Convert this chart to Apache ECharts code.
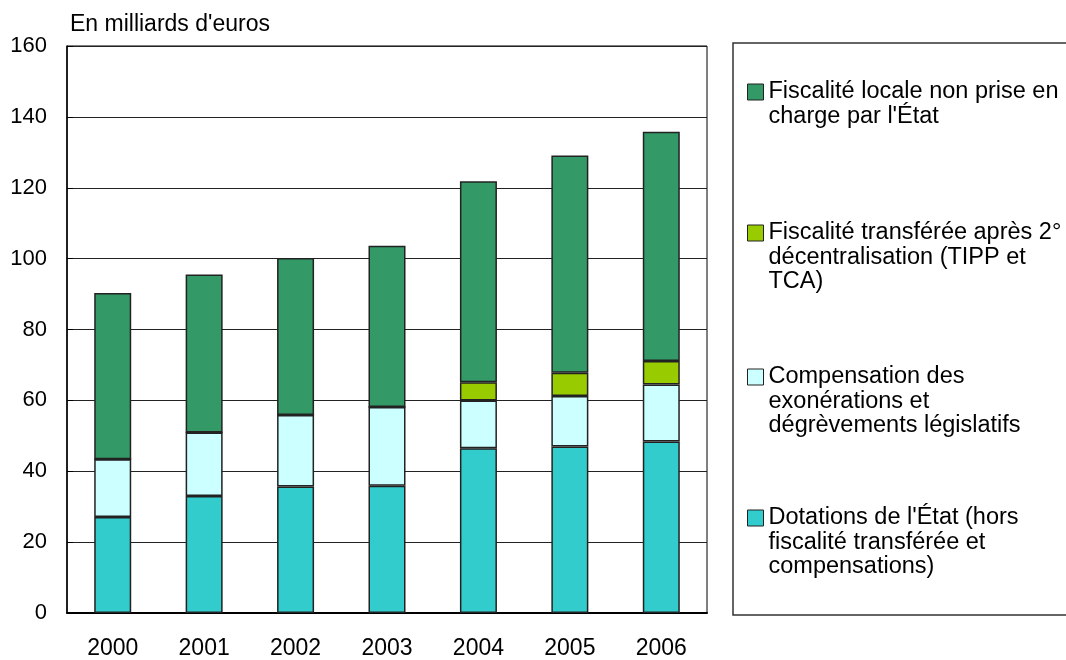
<!DOCTYPE html>
<html>
<head>
<meta charset="utf-8">
<script src="https://cdn.jsdelivr.net/npm/echarts@6/dist/echarts.min.js"></script>
<style>
  html, body { margin: 0; padding: 0; background: #fff; }
  #chart { width: 1066px; height: 660px; }
</style>
</head>
<body>
<div id="chart"></div>
<script>
// années
const years = ['2000', '2001', '2002', '2003', '2004', '2005', '2006'];

// valeurs en milliards d'euros
const dotations = [27.1, 33.0, 35.7, 35.9, 46.5, 47.0, 48.4];
const compensation = [16.3, 17.9, 20.2, 22.2, 13.5, 14.2, 16.1];
const transferee = [0, 0, 0, 0, 5.1, 6.6, 6.6];
const locale = [46.9, 44.6, 44.3, 45.5, 56.7, 61.3, 64.7];

const seriesNames = [
  "Dotations de l'État (hors fiscalité transférée et compensations)",
  "Compensation des exonérations et dégrèvements législatifs",
  "Fiscalité transférée après 2° décentralisation (TIPP et TCA)",
  "Fiscalité locale non prise en charge par l'État"
];
// libellés de légende, coupés comme sur l'original
const legendLines = [
  ["Dotations de l'État (hors", "fiscalité transférée et", "compensations)"],
  ["Compensation des", "exonérations et", "dégrèvements législatifs"],
  ["Fiscalité transférée après 2°", "décentralisation (TIPP et", "TCA)"],
  ["Fiscalité locale non prise en", "charge par l'État"]
];
const colors = ['#33CCCC', '#CCFFFF', '#99CC00', '#339966'];
const yTicks = { min: 0, max: 160, step: 20 };

const font = "'Liberation Sans', Arial, sans-serif";
const lineH = 24.5;

const chart = echarts.init(document.getElementById('chart'));

// une légende par série ; des lignes vides en tête de texte
// placent la première ligne au niveau du carré
const iconY = [518, 377, 233, 92];
const legends = seriesNames.map((name, i) => {
  const n = legendLines[i].length;
  const padded = new Array(n - 1).fill('').concat(legendLines[i]);
  return {
    data: [name],
    left: 747,
    top: iconY[i] - (2 * n - 1) * lineH / 2,
    padding: 0,
    itemWidth: 16,
    itemHeight: 16,
    itemGap: 0,
    selectedMode: false,
    icon: 'rect',
    itemStyle: { borderColor: '#222', borderWidth: 1 },
    formatter: () => padded.join('\n'),
    textStyle: {
      fontFamily: font,
      fontSize: 23.5,
      color: '#000',
      lineHeight: lineH
    }
  };
});

const values = [dotations, compensation, transferee, locale];

chart.setOption({
  animation: false,
  textStyle: { fontFamily: font },
  grid: {
    left: 67, right: 359, top: 46, bottom: 46,
    show: true, borderColor: '#000', borderWidth: 1
  },
  legend: legends,
  graphic: [{
    type: 'rect',
    shape: { x: 733, y: 43, width: 345, height: 572 },
    style: { fill: 'none', stroke: '#333', lineWidth: 1.5 },
    z: -1
  }],
  xAxis: {
    type: 'category',
    data: years,
    axisLine: { lineStyle: { color: '#000', width: 2 } },
    axisTick: { inside: true, length: 5, lineStyle: { color: '#555' } },
    axisLabel: { fontSize: 23, color: '#000', margin: 24, fontFamily: font }
  },
  yAxis: {
    type: 'value',
    min: yTicks.min,
    max: yTicks.max,
    interval: yTicks.step,
    name: "En milliards d'euros",
    nameLocation: 'end',
    nameGap: 10,
    nameTextStyle: {
      fontSize: 23, color: '#000', align: 'left',
      padding: [0, 0, 0, 3], fontFamily: font
    },
    axisLine: { show: true, lineStyle: { color: '#000', width: 1.5 } },
    axisTick: { show: true, inside: true, length: 6, lineStyle: { color: '#000' } },
    axisLabel: { fontSize: 22, color: '#000', margin: 20, fontFamily: font },
    splitLine: { lineStyle: { color: '#222', width: 1 } }
  },
  series: seriesNames.map((name, i) => ({
    name: name,
    type: 'bar',
    stack: 'total',
    barWidth: 37,
    data: values[i],
    itemStyle: { color: colors[i], borderColor: '#222', borderWidth: 1.5 }
  }))
});
</script>
</body>
</html>
